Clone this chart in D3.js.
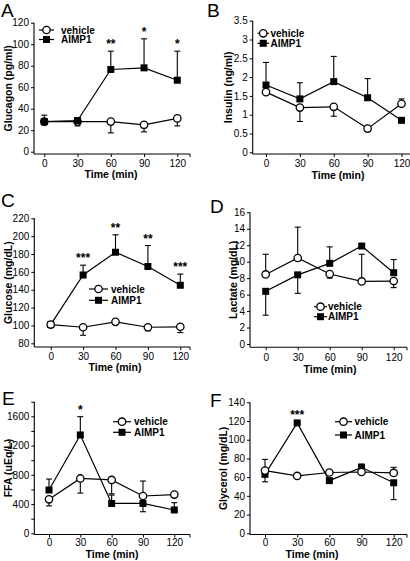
<!DOCTYPE html>
<html><head><meta charset="utf-8">
<script src="https://cdn.jsdelivr.net/npm/d3@7"></script>
<style>body{margin:0;background:#fff} svg{display:block} text{font-family:Arial,"Liberation Sans",sans-serif}</style>
</head><body><svg id="c" width="410" height="561"></svg>
<script>
// ---------------- DATA ----------------
const times = [0, 30, 60, 90, 120];
const seriesNames = ["vehicle", "AIMP1"];
const xTitle = "Time (min)";

// A: Glucagon (pg/ml)
const glucagonVehicle = [28, 28, 28, 25, 31];
const glucagonVehicleErr = [3, 4, 10.5, 6.5, 7];
const glucagonVehicleDir = [-1, -1, -1, -1, -1];
const glucagonAimp = [28, 29, 76.5, 78, 66.5];
const glucagonAimpErr = [6, 1, 17, 27, 27];
const glucagonAimpDir = [1, 1, 1, 1, 1];
const glucagonStars = ["", "", "**", "*", "*"];
const glucagonTicks = [0, 20, 40, 60, 80, 100, 120];

// B: Insulin (ng/ml)
const insulinVehicle = [1.60, 1.19, 1.21, 0.63, 1.29];
const insulinVehicleErr = [0.05, 0.37, 0.25, 0.03, 0.13];
const insulinVehicleDir = [-1, -1, -1, -1, 1];
const insulinAimp = [1.79, 1.42, 1.88, 1.45, 0.85];
const insulinAimpErr = [0.60, 0.43, 0.67, 0.51, 0.03];
const insulinAimpDir = [1, 1, 1, 1, 1];
const insulinStars = ["", "", "", "", ""];
const insulinTicks = [0, 0.5, 1, 1.5, 2, 2.5, 3, 3.5];

// C: Glucose (mg/dL)
const glucoseVehicle = [101, 98, 104, 98, 98.5];
const glucoseVehicleErr = [1, 9, 1.5, 4, 6.5];
const glucoseVehicleDir = [-1, -1, -1, -1, -1];
const glucoseAimp = [101, 156.5, 182, 166, 145];
const glucoseAimpErr = [1, 11, 19.5, 23.5, 12.5];
const glucoseAimpDir = [1, 1, 1, 1, 1];
const glucoseStars = ["", "***", "**", "**", "***"];
const glucoseTicks = [80, 100, 120, 140, 160, 180, 200, 220];

// D: Lactate (mg/dL)
const lactateVehicle = [8.45, 10.45, 8.5, 7.6, 7.65];
const lactateVehicleErr = [2.45, 3.75, 0.5, 3.3, 0.8];
const lactateVehicleDir = [1, 1, -1, 1, -1];
const lactateAimp = [6.4, 8.4, 9.8, 11.9, 8.66];
const lactateAimpErr = [2.9, 2.25, 2.0, 0.3, 1.6];
const lactateAimpDir = [-1, -1, 1, 1, 1];
const lactateStars = ["", "", "", "", ""];
const lactateTicks = [0, 2, 4, 6, 8, 10, 12, 14, 16];

// E: FFA (uEq/L)
const ffaVehicle = [465, 750, 730, 510, 530];
const ffaVehicleErr = [90, 200, 190, 205, 20];
const ffaVehicleDir = [-1, -1, -1, 1, 1];
const ffaAimp = [592, 1345, 408, 408, 319];
const ffaAimpErr = [150, 250, 115, 113, 100];
const ffaAimpDir = [1, 1, 1, -1, 1];
const ffaStars = ["", "*", "", "", ""];
const ffaTicks = [0, 200, 400, 600, 800, 1000, 1200, 1400, 1600, 1800];
const ffaTickLabels = [0, 400, 800, 1200, 1600];

// F: Glycerol (mg/dL)
const glycerolVehicle = [67, 61.3, 65, 65.5, 64.5];
const glycerolVehicleErr = [12, 1, 1, 1, 6];
const glycerolVehicleDir = [1, -1, -1, -1, 1];
const glycerolAimp = [63, 118, 56.3, 70.5, 54];
const glycerolAimpErr = [8, 1, 1, 3.5, 18];
const glycerolAimpDir = [-1, 1, -1, 1, -1];
const glycerolStars = ["", "***", "", "", ""];
const glycerolTicks = [0, 20, 40, 60, 80, 100, 120, 140];

// ---------------- LAYOUT ----------------
const panels = [
  {letter:"A", lx:1, ly:17, yLabel:"Glucagon (pg/ml)", ylx:8,
   ax:34, x0:44.3, x1:177.3, xEnd:190, dom:[0,120], yBot:151.7, yTop:22.7, xAxisY:154,
   ticks:glucagonTicks, labels:glucagonTicks, tx:111, ty:178, tpad:3,
   veh:glucagonVehicle, vehE:glucagonVehicleErr, vehD:glucagonVehicleDir,
   aim:glucagonAimp, aimE:glucagonAimpErr, aimD:glucagonAimpDir, stars:glucagonStars,
   leg:{x:39, y:30, dy:9.5, len:15, tx:61}, aimpTop:true},
  {letter:"B", lx:207, ly:17, yLabel:"Insulin (ng/ml)", ylx:228,
   ax:252.7, x0:266, x1:401.5, xEnd:420, dom:[0,3.5], yBot:152.3, yTop:20.7, xAxisY:154,
   ticks:insulinTicks, labels:insulinTicks, tx:338, ty:178.5, tpad:2.5,
   veh:insulinVehicle, vehE:insulinVehicleErr, vehD:insulinVehicleDir,
   aim:insulinAimp, aimE:insulinAimpErr, aimD:insulinAimpDir, stars:insulinStars,
   leg:{x:257.5, y:33.3, dy:10, len:11.5, tx:270.5}},
  {letter:"C", lx:1, ly:207, yLabel:"Glucose (mg/dL)", ylx:8,
   ax:34.3, x0:50.7, x1:180.3, xEnd:190, dom:[80,220], yBot:343.3, yTop:218.3, xAxisY:347,
   ticks:glucoseTicks, labels:glucoseTicks, tx:115, ty:371, tpad:3,
   veh:glucoseVehicle, vehE:glucoseVehicleErr, vehD:glucoseVehicleDir,
   aim:glucoseAimp, aimE:glucoseAimpErr, aimD:glucoseAimpDir, stars:glucoseStars,
   leg:{x:89, y:289, dy:11.3, len:19, tx:111}},
  {letter:"D", lx:210, ly:213, yLabel:"Lactate (mg/dL)", ylx:233,
   ax:250, x0:265.7, x1:393.7, xEnd:407, dom:[0,16], yBot:344, yTop:212.3, xAxisY:347.3,
   ticks:lactateTicks, labels:lactateTicks, tx:330, ty:373, tpad:3.5,
   veh:lactateVehicle, vehE:lactateVehicleErr, vehD:lactateVehicleDir,
   aim:lactateAimp, aimE:lactateAimpErr, aimD:lactateAimpDir, stars:lactateStars,
   leg:{x:314, y:306.7, dy:10, len:13, tx:328}},
  {letter:"E", lx:2, ly:405, yLabel:"FFA (uEq/L)", ylx:8,
   ax:34.3, x0:49, x1:174.3, xEnd:190, dom:[0,1800], yBot:533.3, yTop:401.7, xAxisY:534.5,
   ticks:ffaTicks, labels:ffaTickLabels, tx:112, ty:558, tpad:1.5,
   veh:ffaVehicle, vehE:ffaVehicleErr, vehD:ffaVehicleDir,
   aim:ffaAimp, aimE:ffaAimpErr, aimD:ffaAimpDir, stars:ffaStars,
   leg:{x:113, y:421.7, dy:10.6, len:18, tx:134}},
  {letter:"F", lx:210, ly:407, yLabel:"Glycerol (mg/dL)", ylx:223,
   ax:250, x0:265, x1:393.7, xEnd:407, dom:[0,140], yBot:533.3, yTop:402.3, xAxisY:534.5,
   ticks:glycerolTicks, labels:glycerolTicks, tx:312, ty:558, tpad:1.5,
   veh:glycerolVehicle, vehE:glycerolVehicleErr, vehD:glycerolVehicleDir,
   aim:glycerolAimp, aimE:glycerolAimpErr, aimD:glycerolAimpDir, stars:glycerolStars,
   leg:{x:335, y:421.7, dy:13.3, len:17, tx:354.5}}
];

const svg = d3.select("#c");
const SW = 1.2, R = 3.7, SQ = 7, CAP = 3;

function marker(g, type, cx, cy) {
  if (type === "vehicle") {
    g.append("circle").attr("cx", cx).attr("cy", cy).attr("r", R)
      .attr("fill", "#fff").attr("stroke", "#000").attr("stroke-width", 1.3);
  } else {
    g.append("rect").attr("x", cx - SQ/2).attr("y", cy - SQ/2)
      .attr("width", SQ).attr("height", SQ).attr("fill", "#000");
  }
}

panels.forEach(p => {
  const g = svg.append("g");
  const x = d3.scaleLinear().domain([0, 120]).range([p.x0, p.x1]);
  const y = d3.scaleLinear().domain(p.dom).range([p.yBot, p.yTop]);

  g.append("text").attr("x", p.lx).attr("y", p.ly).attr("font-size", 19).text(p.letter);

  const ya = g.append("g").attr("transform", `translate(${p.ax},0)`)
    .call(d3.axisLeft(y).tickValues(p.ticks).tickSize(3).tickSizeOuter(0).tickPadding(2)
      .tickFormat(d => p.labels.includes(d) ? d3.format("")(d) : ""));
  ya.select(".domain").remove();
  ya.selectAll("text").attr("font-size", 10).attr("font-family", null);
  ya.selectAll("line").attr("stroke-width", 1);
  g.append("line").attr("x1", p.ax).attr("x2", p.ax).attr("y1", p.yTop).attr("y2", p.xAxisY)
    .attr("stroke", "#000").attr("stroke-width", 1.1);

  const xa = g.append("g").attr("transform", `translate(0,${p.xAxisY})`)
    .call(d3.axisBottom(x).tickValues(times).tickSize(3).tickSizeOuter(0).tickPadding(p.tpad));
  xa.select(".domain").remove();
  xa.selectAll("text").attr("font-size", 10).attr("font-family", null);
  g.append("line").attr("x1", p.ax).attr("x2", p.xEnd).attr("y1", p.xAxisY).attr("y2", p.xAxisY)
    .attr("stroke", "#000").attr("stroke-width", 1.1);
  g.append("line").attr("x1", p.xEnd).attr("x2", p.xEnd).attr("y1", p.xAxisY).attr("y2", p.xAxisY + 3)
    .attr("stroke", "#000");

  g.append("text").attr("x", p.tx).attr("y", p.ty).attr("text-anchor", "middle")
    .attr("font-size", 10.5).attr("font-weight", "bold").text(xTitle);
  const yc = (p.yTop + p.xAxisY) / 2;
  g.append("text").attr("transform", `translate(${p.ylx},${yc}) rotate(-90)`)
    .attr("text-anchor", "middle").attr("dominant-baseline", "central")
    .attr("font-size", 10.5).attr("font-weight", "bold").text(p.yLabel);

  const series = [
    {name: "vehicle", v: p.veh, e: p.vehE, d: p.vehD},
    {name: "AIMP1", v: p.aim, e: p.aimE, d: p.aimD}
  ];
  const line = d3.line().x((d, i) => x(times[i])).y(d => y(d));
  series.forEach(s => {
    g.append("path").datum(s.v).attr("d", line).attr("fill", "none")
      .attr("stroke", "#000").attr("stroke-width", SW);
  });
  series.forEach(s => {
    s.v.forEach((v, i) => {
      const end = v + s.d[i] * s.e[i];
      const cx = x(times[i]);
      g.append("line").attr("x1", cx).attr("x2", cx).attr("y1", y(v)).attr("y2", y(end))
        .attr("stroke", "#000").attr("stroke-width", 1.1);
      g.append("line").attr("x1", cx - CAP).attr("x2", cx + CAP).attr("y1", y(end)).attr("y2", y(end))
        .attr("stroke", "#000").attr("stroke-width", 1.1);
    });
  });
  const order = p.aimpTop ? [series[0], series[1]] : [series[1], series[0]];
  order.forEach(s => s.v.forEach((v, i) => marker(g, s.name, x(times[i]), y(v))));

  p.stars.forEach((st, i) => {
    if (!st) return;
    const top = Math.max(...series.map(s => s.v[i] + (s.d[i] > 0 ? s.e[i] : 0)));
    g.append("text").attr("x", x(times[i])).attr("y", y(top) - 3)
      .attr("text-anchor", "middle").attr("font-size", 12).attr("font-weight", "bold").text(st);
  });

  series.forEach((s, k) => {
    const ly = p.leg.y + k * p.leg.dy;
    g.append("line").attr("x1", p.leg.x).attr("x2", p.leg.x + p.leg.len).attr("y1", ly).attr("y2", ly)
      .attr("stroke", "#000").attr("stroke-width", SW);
    marker(g, s.name, p.leg.x + p.leg.len / 2, ly);
    g.append("text").attr("x", p.leg.tx).attr("y", ly).attr("dominant-baseline", "central")
      .attr("font-size", 10).attr("font-weight", "bold").text(seriesNames[k]);
  });
});
</script></body></html>
